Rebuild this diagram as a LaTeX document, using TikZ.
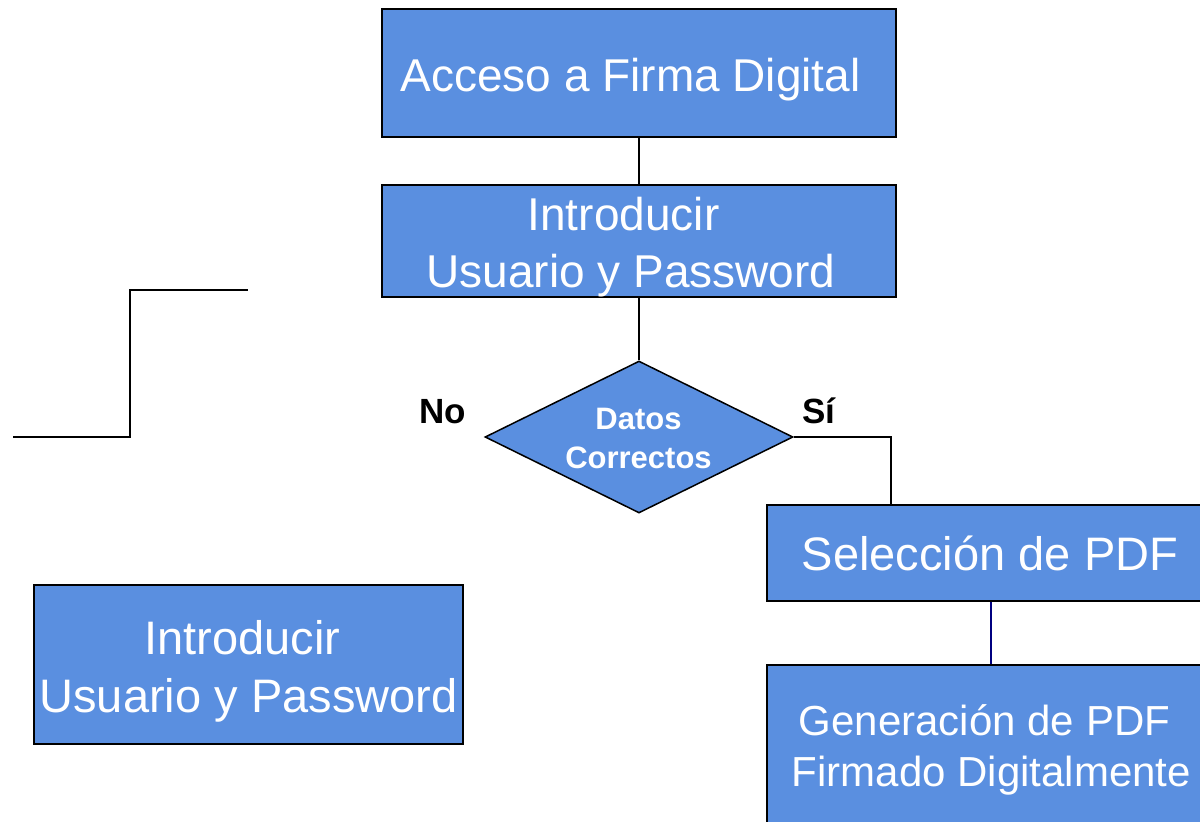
\documentclass[tikz,border=0pt]{standalone}
\usepackage{fontspec}
\setmainfont{Liberation Sans}
\usetikzlibrary{shapes.geometric}
\definecolor{boxblue}{RGB}{90,143,224}
\definecolor{linknavy}{RGB}{0,0,128}
\tikzset{
  box/.style={draw=black, line width=2pt, fill=boxblue, rectangle, inner sep=0pt},
  dia/.style={draw=black, line width=1.5pt, fill=boxblue, shape=diamond, inner sep=0pt},
  txt/.style={inner sep=0pt, anchor=base, text=white},
  big/.style={font=\fontsize{46}{55}\selectfont},
  bigl/.style={font=\fontsize{47}{56}\selectfont},
  mid/.style={font=\fontsize{42}{50}\selectfont},
  dtxt/.style={font=\fontsize{31}{37}\selectfont\bfseries},
  lbl/.style={inner sep=0pt, anchor=base, text=black, font=\fontsize{35}{42}\selectfont\bfseries},
  conn/.style={draw=black, line width=1.4pt},
  connb/.style={draw=linknavy, line width=1.6pt}
}
\begin{document}
\begin{tikzpicture}[x=1pt,y=-1pt]
\useasboundingbox (0,0) rectangle (1200,822);
\clip (0,0) rectangle (1200,822);
\fill[white] (0,0) rectangle (1200,822);
% boxes
\node[box, minimum width=514pt, minimum height=128pt] (b1) at (639,73) {};
\node[box, minimum width=514pt, minimum height=112pt] (b2) at (639,241) {};
\node[dia, minimum width=308pt, minimum height=152pt] (d) at (639,437) {};
\node[box, minimum width=448pt, minimum height=96pt] (b3) at (991,553) {};
\node[box, minimum width=448pt, minimum height=164pt] (b4) at (991,747) {};
\node[box, minimum width=429pt, minimum height=159pt] (b5) at (248.5,664.5) {};
% texts
\node[txt, big] (t1) at (630.5,91) {Acceso a Firma Digital};
\node[txt, big] (t2a) at (623.5,230) {Introducir};
\node[txt, big] (t2b) at (631,287) {Usuario y Password};
\node[txt, dtxt] (td1) at (638.5,429) {Datos};
\node[txt, dtxt] (td2) at (638.5,468) {Correctos};
\node[txt, bigl] (t3) at (990,570) {Selección de PDF};
\node[txt, mid] (t4a) at (984.5,735) {Generación de PDF};
\node[txt, mid] (t4b) at (991.5,786) {Firmado Digitalmente};
\node[txt, bigl] (t5a) at (242.5,654) {Introducir};
\node[txt, bigl] (t5b) at (248.5,712) {Usuario y Password};
\node[lbl] (no) at (442.5,423) {No};
\node[lbl] (si) at (819,423) {Sí};
% connectors
\draw[conn] (b1.south) -- (b2.north);
\draw[conn] (b2.south) -- (d.north);
\draw[conn] (d.east) -| ([xshift=-100pt]b3.north);
\draw[connb] (b3.south) -- (b4.north);
% loose line on the left
\coordinate (s1) at (13,437);
\coordinate (s2) at (130,437);
\coordinate (s3) at (130,290);
\coordinate (s4) at (248,290);
\draw[conn] (s1) -- (s2) -- (s3) -- (s4);
\end{tikzpicture}
\end{document}
